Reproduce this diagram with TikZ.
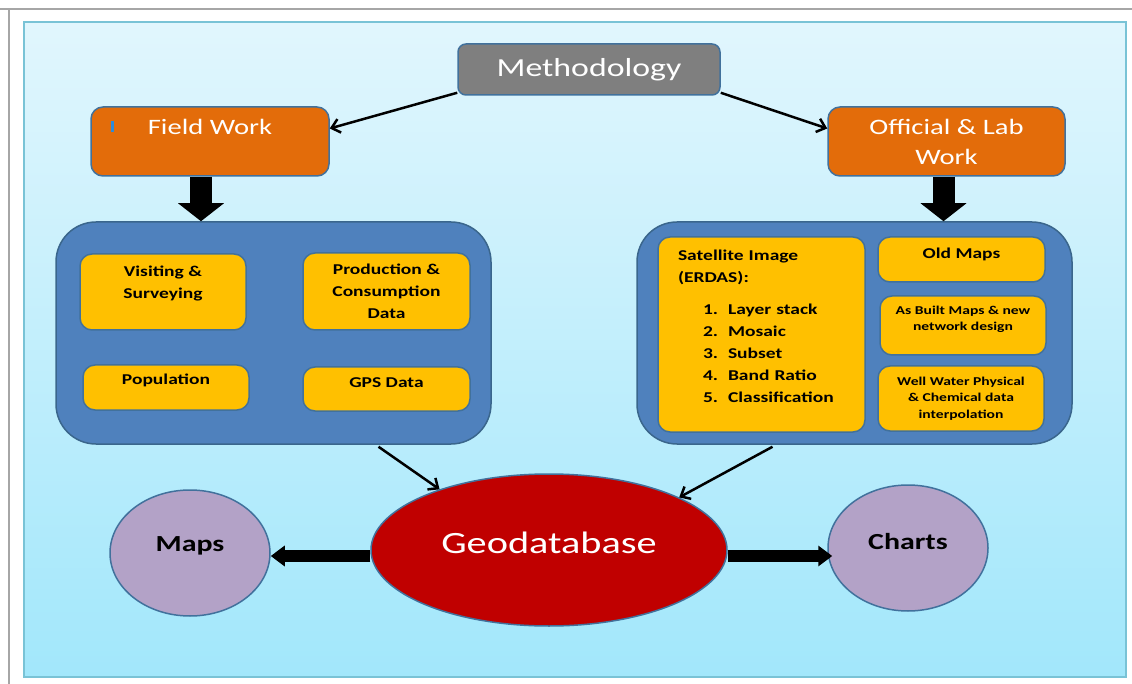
\documentclass[tikz,border=0pt]{standalone}
\usepackage{fontspec}
\setmainfont{Carlito}[FakeStretch=1.3]
\usetikzlibrary{arrows.meta,shapes.geometric,positioning}

\definecolor{paneltop}{HTML}{E1F6FD}
\definecolor{panelbot}{HTML}{A2E7FB}
\definecolor{panelline}{HTML}{79C3D6}
\definecolor{edge}{HTML}{41719C}
\definecolor{methgray}{HTML}{7F7F7F}
\definecolor{fieldorange}{HTML}{E36C0A}
\definecolor{groupblue}{HTML}{4F81BD}
\definecolor{itemyellow}{HTML}{FFC000}
\definecolor{geored}{HTML}{C00000}
\definecolor{outlilac}{HTML}{B3A2C7}
\definecolor{cursorblue}{HTML}{2E8BD8}

\begin{document}
\begin{tikzpicture}[x=1pt,y=-1pt,
    gbox/.style={draw=edge,line width=1.5pt,rounded corners=8pt,fill=methgray,text=white,
        font=\fontsize{26}{31}\selectfont,minimum width=262pt,minimum height=51pt,inner sep=0pt},
    obox/.style={draw=edge,line width=1.5pt,rounded corners=12pt,fill=fieldorange,text=white,align=center,
        font=\fontsize{22}{30}\selectfont,minimum width=237pt,minimum height=69pt,inner sep=0pt},
    bbox/.style={draw=edge!90!black,line width=1.5pt,rounded corners=40pt,fill=groupblue,
        minimum width=435pt,minimum height=222pt,inner sep=0pt},
    ybox/.style={draw=edge,line width=1.5pt,rounded corners=12pt,fill=itemyellow,align=center,
        font=\bfseries\fontsize{15}{22}\selectfont,minimum width=166pt,inner sep=0pt},
    small/.style={font=\bfseries\fontsize{12}{16.5}\selectfont},
    oval/.style={ellipse,draw=edge,line width=1.5pt,inner sep=0pt},
    lift/.style={text depth=#1},
    thin/.style={-{Straight Barb[length=8pt,width=14pt]},line width=2.5pt},
    fatdown/.style={-{Triangle[width=45pt,length=18pt]},line width=22pt},
    fatside/.style={-{Triangle[width=20pt,length=14pt]},line width=12pt}]

  % page and background panel
  \useasboundingbox (0,0) rectangle (1132,684);
  \fill[white] (0,0) rectangle (1132,684);
  \draw[black!35,line width=2pt] (0,9) -- (1132,9) (9,9) -- (9,684);
  \draw[panelline,line width=1.5pt,top color=paneltop,bottom color=panelbot] (24,22) rectangle (1126,677);

  % top level
  \node[gbox] (method) at (589,69.5) {Methodology};
  \node[obox,minimum width=238pt] (field) at (210,141.5) {Field Work\\\mbox{}};
  \node[obox] (lab) at (946.5,141.5) {Official \& Lab\\Work};
  \fill[cursorblue] ([xshift=21pt,yshift=-15pt]field.north west) rectangle ++(3,11);

  % group boxes
  \node[bbox] (fieldbox) at (273.5,333) {};
  \node[bbox] (labbox) at (854.5,333) {};

  % field work items
  \node[ybox,minimum height=76pt,lift=20pt] (visit) at (163,292) {Visiting \&\\Surveying};
  \node[ybox,minimum width=167pt,minimum height=77pt] (prod) at (386.5,291.5) {Production \&\\Consumption\\Data};
  \node[ybox,minimum height=45pt,lift=17pt] (pop) at (166,387.5) {Population};
  \node[ybox,minimum width=167pt,minimum height=44pt,lift=13pt] (gps) at (386.5,389) {GPS Data};

  % lab work items
  \node[ybox,minimum width=207pt,minimum height=195pt,text width=167pt,align=left] (sat) at (761.5,334.5)
    {Satellite Image\\(ERDAS):\\[10pt]
     \hspace*{25pt}\makebox[25pt][l]{1.}Layer stack\\
     \hspace*{25pt}\makebox[25pt][l]{2.}Mosaic\\
     \hspace*{25pt}\makebox[25pt][l]{3.}Subset\\
     \hspace*{25pt}\makebox[25pt][l]{4.}Band Ratio\\
     \hspace*{25pt}\makebox[25pt][l]{5.}Classification\\[-6pt]\mbox{}};
  \node[ybox,minimum width=167pt,minimum height=45pt,lift=13pt] (oldmaps) at (961.5,259.5) {Old Maps};
  \node[ybox,small,minimum height=59pt,lift=14pt] (built) at (963,325.5) {As Built Maps \& new\\network design};
  \node[ybox,small,minimum height=65pt] (well) at (961,398.5) {Well Water Physical\\\& Chemical data\\interpolation};

  % outputs
  \node[oval,fill=geored,text=white,minimum width=356pt,minimum height=152pt,
        font=\fontsize{31}{36}\selectfont,lift=14pt] (geodb) at (549,550) {Geodatabase};
  \node[oval,fill=outlilac,minimum width=160pt,minimum height=126pt,
        font=\bfseries\fontsize{23}{28}\selectfont,lift=17pt] (maps) at (190,553) {Maps};
  \node[oval,fill=outlilac,minimum width=160pt,minimum height=126pt,
        font=\bfseries\fontsize{23}{28}\selectfont,lift=14pt] (charts) at (908,548) {Charts};

  % connectors
  \draw[thin] ([yshift=3pt]method.south west) -- ([yshift=13pt]field.east);
  \draw[thin] ([yshift=3pt]method.south east) -- ([yshift=13pt]lab.west);
  \draw[fatdown] ([xshift=-9pt]field.south) -- ([xshift=-9pt]field.south |- fieldbox.north);
  \draw[fatdown] ([xshift=-3pt]lab.south) -- ([xshift=-3pt]lab.south |- labbox.north);
  \draw[thin] ([xshift=105pt,yshift=-2pt]fieldbox.south) -- (geodb.151);
  \draw[thin] ([xshift=-82pt,yshift=-2pt]labbox.south) -- (geodb.22);
  \draw[fatside] ([yshift=-6pt]geodb.west) -- ([yshift=-6pt]geodb.west -| maps.east);
  \draw[fatside] ([yshift=-6pt]geodb.east) -- ([yshift=-6pt,xshift=5pt]geodb.east -| charts.west);
\end{tikzpicture}
\end{document}
